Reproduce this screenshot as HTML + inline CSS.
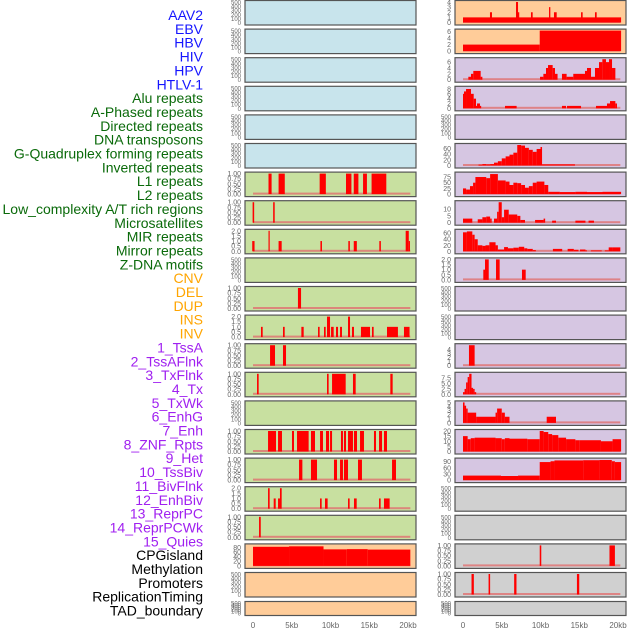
<!DOCTYPE html>
<html><head><meta charset="utf-8">
<style>
body{margin:0;background:#fff;width:630px;height:630px;overflow:hidden;font-family:"Liberation Sans",sans-serif}
svg{position:absolute;left:0;top:0}
</style></head>
<body>
<svg id="chart" width="630" height="630" xmlns="http://www.w3.org/2000/svg"></svg>
<script>
const trackLabels = ["AAV2","EBV","HBV","HIV","HPV","HTLV-1","Alu repeats","A-Phased repeats","Directed repeats","DNA transposons","G-Quadruplex forming repeats","Inverted repeats","L1 repeats","L2 repeats","Low_complexity A/T rich regions","Microsatellites","MIR repeats","Mirror repeats","Z-DNA motifs","CNV","DEL","DUP","INS","INV","1_TssA","2_TssAFlnk","3_TxFlnk","4_Tx","5_TxWk","6_EnhG","7_Enh","8_ZNF_Rpts","9_Het","10_TssBiv","11_BivFlnk","12_EnhBiv","13_ReprPC","14_ReprPCWk","15_Quies","CPGisland","Methylation","Promoters","ReplicationTiming","TAD_boundary"];
const labelGroups = ["v","v","v","v","v","v","r","r","r","r","r","r","r","r","r","r","r","r","r","s","s","s","s","s","c","c","c","c","c","c","c","c","c","c","c","c","c","c","c","k","k","k","k","k"];
const xTickLabels = ["0","5kb","10kb","15kb","20kb"];
const xTickValues = [0,5,10,15,20];
const E = [0,100,200,300,400,500], B = ["0.00","0.25","0.50","0.75","1.00"], T = ["0.0","0.5","1.0","1.5","2.0"];
const leftBg = ["b","b","b","b","b","b","g","g","g","g","g","g","g","g","g","g","g","g","g","o","o","o"];
const rightBg = ["o","o","p","p","p","p","p","p","p","p","p","p","p","p","p","p","p","y","y","y","y","y"];
const leftTicks = [E,E,E,E,E,E,B,B,T,E,B,T,B,B,E,B,B,T,B,["0","20","40","60","80"],E,E];
const leftMax = [500,500,500,500,500,500,1,1,2,500,1,2,1,1,500,1,1,2,1,88,500,500];
const rightTicks = [["0","1","2","3","4"],["0","2","4","6"],["0","2","4","6"],["0","2","4","6","8"],E,["0","20","40","60"],["0","25","50","75"],["0","5","10"],["0","20","40","60"],T,E,E,["0","1","2","3","4"],["0.0","2.5","5.0","7.5"],["0","1","2","3","4","5"],["0","5","10","15","20"],["0","30","60","90"],E,E,B,B,E];
const rightMax = [4,6.3,7,8.5,500,72,90,15,68,2,500,500,5,9.5,5,20,100,500,500,1,1,500];
const leftSeries = [[],[],[],[],[],[],
[[2.0,2.4,1],[3.3,4.1,1],[8.6,9.4,1],[12.0,12.7,1],[13.0,13.6,1],[14.2,14.7,1],[15.3,17.2,1]],
[[-0.05,0.15,1],[2.6,2.8,1]],
[[-0.1,0.2,1],[2.0,2.1,2],[3.3,3.7,1],[8.7,8.9,1],[12.3,12.5,1],[13.0,13.4,1],[16.3,16.5,1],[19.7,20.1,2],[20.1,20.2,1]],
[],
[[5.8,6.2,1]],
[[1.03,1.25,1],[3.87,4.09,1],[6.24,6.54,1],[8.39,8.6,1],[9.16,9.38,1],[9.55,9.94,2],[10.07,10.41,1],[10.71,10.97,1],[11.23,11.48,1],[12.26,12.52,2],[12.77,13.03,1],[13.93,15.1,1],[15.35,15.57,1],[17.29,18.7,1],[19.48,20.2,1]],
[[2.2,2.84,1],[3.87,4.26,1]],
[[0.52,0.73,1],[9.55,9.76,1],[10.2,11.96,1],[12.9,13.25,1],[17.72,18.02,1]],
[],
[[1.94,2.97,1],[3.23,3.74,1],[5.03,5.29,1],[5.68,7.18,1],[7.48,8.0,1],[8.65,9.03,1],[9.42,9.81,1],[9.94,10.2,1],[11.35,11.61,1],[11.74,12.0,1],[12.26,12.9,1],[13.03,13.42,1],[13.81,14.32,1],[15.61,15.87,1],[16.26,16.65,1],[16.9,17.29,1]],
[[5.94,6.37,1],[7.48,8.26,1],[10.45,10.84,1],[11.23,11.61,1],[11.74,12.26,1],[13.55,14.06,1],[17.94,18.45,1]],
[[1.94,2.15,2],[2.67,2.93,1],[3.23,3.48,1],[3.48,3.7,2],[8.65,8.86,1],[9.29,9.63,1],[12.26,12.47,1],[13.03,13.38,1],[16.26,16.47,1],[16.9,17.63,1]],
[[0.78,1.0,1]],
[[0,4.65,82],[4.65,9.1,84],[9.1,12.1,71],[12.1,14.8,72],[14.8,20.3,70]],
[],[]];
const rightSeries = [
[[0,20.4,1],[3.48,3.74,2],[6.84,7.1,4],[7.1,7.23,2],[8.77,8.99,2],[11.1,11.27,3],[11.74,12.09,2],[15.23,15.44,2],[17.03,17.25,2]],
[[0,9.9,2],[9.9,20.4,6.3]],
[[0.69,1.03,1],[1.03,1.33,2],[1.33,2.28,3],[2.28,2.5,1],[9.94,10.37,1],[10.37,10.71,2],[10.71,10.97,4],[10.97,11.57,5],[11.57,11.87,4],[11.87,12.2,2],[12.77,13.37,2],[13.37,14.23,1],[14.23,15.74,2],[15.74,16.0,3],[16.0,16.52,4],[16.52,17.03,1],[17.03,17.55,4],[17.55,17.98,6],[17.98,18.45,7],[18.45,18.84,6],[18.84,19.23,7],[19.23,19.66,4]],
[[0,0.13,6],[0.13,0.39,7],[0.39,1.03,8],[1.03,1.38,6],[1.38,1.68,4],[1.68,1.81,1],[1.81,2.19,2],[2.19,2.28,1],[5.42,6.92,1],[12.77,13.29,1],[13.42,15.23,1],[17.16,18.58,1],[18.58,18.97,2],[18.97,19.66,3],[19.66,19.87,2]],
[],
[[2.0,2.5,3],[2.5,3.0,5],[3.0,3.5,4],[3.5,4.0,5],[4.0,4.5,10],[4.5,5.0,15],[5.0,5.5,25],[5.5,6.0,32],[6.0,6.5,38],[6.5,7.0,45],[7.0,7.5,72],[7.5,8.0,70],[8.0,8.5,62],[8.5,9.0,55],[9.0,9.5,48],[9.5,10.0,58],[10.0,10.2,65],[10.2,14.45,4]],
[[0,0.4,25],[0.4,0.9,20],[0.9,1.3,35],[1.3,1.6,50],[1.6,3.0,75],[3.0,3.5,70],[3.5,4.5,88],[4.5,5.5,60],[5.5,6.0,55],[6.0,6.5,40],[6.5,7.0,50],[7.0,7.5,48],[7.5,8.0,40],[8.0,8.5,28],[8.5,9.0,35],[9.0,9.5,50],[9.5,10.5,55],[10.5,11.0,40],[11.0,12.5,10],[12.5,14.5,9],[14.5,16.0,10],[16.0,18.0,9],[18.0,20.4,10]],
[[0,1.2,3],[1.9,2.5,2.5],[2.5,3.0,4],[3.0,3.5,4.5],[3.5,3.7,3],[4.0,4.4,3],[4.4,4.6,8],[4.6,5.0,15],[5.0,5.3,4],[5.3,5.9,9.5],[5.9,7.0,6],[7.0,7.4,5],[7.4,8.0,2],[9.3,10.4,2],[10.4,10.6,3],[11.5,12.0,1.5],[14.5,15.8,1.5],[16.2,16.9,1.5]],
[[0,0.5,63],[0.5,1.2,66],[1.2,1.5,55],[1.5,1.9,40],[1.9,2.5,20],[2.5,2.9,18],[2.9,3.4,20],[3.4,4.2,30],[4.2,4.5,20],[4.5,5.3,6],[5.3,5.8,14],[5.8,6.5,10],[6.5,7.2,12],[7.2,7.9,15],[7.9,8.3,10],[8.3,9.0,8],[9.0,9.4,4],[11.6,12.8,8],[13.5,14.3,8],[14.3,14.9,5],[15.1,15.8,6],[15.8,16.0,3],[16.5,17.9,3],[18.3,18.8,3],[18.8,19.3,13],[19.3,20.3,13]],
[[2.62,2.84,1],[2.84,3.32,2],[4.26,4.73,2],[7.61,8.09,1]],
[],[],
[[0.77,1.5,5]],
[[0,0.2,1],[0.2,0.4,2.5],[0.4,0.6,5.5],[0.6,0.8,8],[0.8,1.1,9.5],[1.1,1.3,3],[1.3,1.5,2.5],[1.5,1.7,1]],
[[0,0.2,5],[0.2,0.4,4.2],[0.4,0.6,3.5],[0.6,1.7,2.5],[1.7,4.2,1.5],[4.2,4.4,2.5],[4.4,5.0,3.5],[5.0,5.4,2.5],[5.4,6.0,1.5],[10.8,12.0,1.5]],
[[0,0.6,15],[0.6,1.0,12],[1.0,1.5,13],[1.5,4.2,13.5],[4.2,5.0,13],[5.0,5.4,12],[5.4,6.0,13],[6.0,8.3,12.5],[8.3,9.9,12],[9.9,10.4,20],[10.4,11.0,19],[11.0,11.5,17],[11.5,12.3,16],[12.3,13.3,13.5],[13.3,14.5,12],[14.5,15.0,11],[15.0,17.8,11],[17.8,19.3,10],[19.3,20.4,12]],
[[0,4.9,22],[4.9,7.1,20],[7.1,9.9,22],[9.9,11.3,88],[11.3,11.8,92],[11.8,15.5,96],[15.5,17.6,97],[17.6,19.2,98],[19.2,19.6,92],[19.6,20.4,88]],
[],[],
[[9.9,10.1,1],[18.9,19.6,1]],
[[1.1,1.4,1],[3.3,3.5,1],[6.6,6.9,1],[14.7,15.0,1]],
[]];

const NS = "http://www.w3.org/2000/svg";
const svg = document.getElementById("chart");
const bgCol = {b:"#c8e4ec",g:"#c8e0a0",o:"#ffcc99",p:"#d6c6e2",y:"#d0d0d0"};
const grpCol = {v:"#1515ff",r:"#0a6a0a",s:"#ffa500",c:"#a020f0",k:"#000"};
function mk(tag, attrs){const e=document.createElementNS(NS,tag);for(const k in attrs)e.setAttribute(k,attrs[k]);svg.appendChild(e);return e;}
function rowTop(i){return i===21?601:i*28.6;}
function rowH(i){return i===21?14:24.5;}

trackLabels.forEach((t,i)=>{
  const e=mk("text",{x:203,y:20+i*13.85,"text-anchor":"end","font-size":"14",fill:grpCol[labelGroups[i]]});
  e.textContent=t;
  
  
});

function panel(side,i,bg,ticks,ymax,series){
  const x0 = side==="l"?245:455, w=171, zero = side==="l"?253:463;
  const top=rowTop(i), h=rowH(i);
  const xs = kb => zero + kb*7.75;
  const yb = top+h-2, yt = top+2;
  const ys = v => yb - v/ymax*(yb-yt);
  const r=mk("rect",{x:x0,y:top+0.5,width:w,height:h,fill:bgCol[bg],stroke:"#555","stroke-width":1.2});
  
  
  const fs = ticks===E ? 6 : 7;
  ticks.forEach(tl=>{
    const v=parseFloat(tl);
    const t=mk("text",{x:x0-4,y:ys(v)+2.5,"text-anchor":"end","font-size":fs,fill:"#666"});
    t.textContent=tl;
    
    
  });
  if(series.length){
    const bl=mk("rect",{x:xs(0),y:yb-1.5,width:xs(20.3)-xs(0),height:2,fill:"#e07070",opacity:0.8});
    
    
  }
  series.forEach(s=>{
    const b=mk("rect",{x:xs(s[0]),y:ys(s[2]),width:Math.max(1.2,xs(s[1])-xs(s[0])),height:yb-ys(s[2]),fill:"#ff0000"});
    
    
  });
}
for(let i=0;i<22;i++){
  panel("l",i,leftBg[i],leftTicks[i],leftMax[i],leftSeries[i]);
  panel("r",i,rightBg[i],rightTicks[i],rightMax[i],rightSeries[i]);
}
["l","r"].forEach(side=>{
  const zero = side==="l"?253:463;
  xTickValues.forEach((v,j)=>{
    const t=mk("text",{x:zero+v*7.75,y:628,"text-anchor":"middle","font-size":"8",fill:"#666"});
    t.textContent=xTickLabels[j];
    
    
  });
});
</script>
</body></html>
